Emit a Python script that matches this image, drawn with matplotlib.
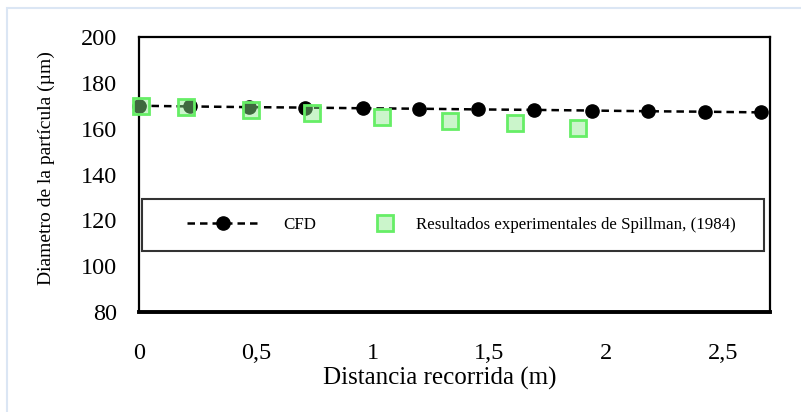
import matplotlib
matplotlib.use("Agg")
import matplotlib.pyplot as plt
from matplotlib.patches import Rectangle

# CFD simulation: particle diameter along the travelled distance
cfd_x = [0.0, 0.22, 0.47, 0.71, 0.96, 1.20, 1.45, 1.69, 1.94, 2.18, 2.42, 2.66]
cfd_y = [170.0, 169.7, 169.4, 169.2, 168.9, 168.7, 168.4, 168.2, 167.9, 167.6, 167.4, 167.1]

# Experimental results (Spillman, 1984)
exp_x = [0.01, 0.20, 0.48, 0.74, 1.04, 1.33, 1.61, 1.88]
exp_y = [170.0, 169.6, 168.1, 167.0, 165.2, 163.5, 162.3, 160.1]

x_ticks = [0, 0.5, 1, 1.5, 2, 2.5]
x_tick_labels = ["0", "0,5", "1", "1,5", "2", "2,5"]
y_ticks = [80, 100, 120, 140, 160, 180, 200]

plt.rcParams["font.family"] = ["Liberation Serif", "DejaVu Serif"]

fig = plt.figure(figsize=(8.01, 4.12), dpi=100)
ax = fig.add_axes([0.1735, 0.2427, 0.7878, 0.6675])

# light frame around the whole figure
fig.patches.append(Rectangle((7 / 801, -0.05), 1.1, 1 - 8 / 412 + 0.05,
                             transform=fig.transFigure, fill=False,
                             edgecolor="#dbe6f4", linewidth=1.5))

cfd_line, = ax.plot(cfd_x, cfd_y, linestyle=(0, (3, 2)), color="black",
                    linewidth=1.8, marker="o", markersize=9.5,
                    markerfacecolor="black", markeredgecolor="black",
                    label="CFD", zorder=3, clip_on=False)
exp_pts, = ax.plot(exp_x, exp_y, linestyle="none", marker="s", markersize=11.5,
                   markerfacecolor=(0.55, 0.92, 0.55, 0.45),
                   markeredgecolor="#66ee66", markeredgewidth=2,
                   label="Resultados experimentales de Spillman, (1984)",
                   zorder=4, clip_on=False)

ax.set_xlim(0, 2.70)
ax.set_ylim(80, 200)
ax.set_xticks(x_ticks)
ax.set_xticklabels(x_tick_labels)
ax.set_yticks(y_ticks)
ax.tick_params(axis="both", length=0, labelsize=17.5)
ax.tick_params(axis="y", pad=16)
ax.tick_params(axis="x", pad=22)

for side in ["left", "right", "top"]:
    ax.spines[side].set_color("black")
    ax.spines[side].set_linewidth(1.6)
ax.spines["bottom"].set_linewidth(2.8)

ax.set_xlabel("Distancia recorrida (m)", fontsize=18)
ax.xaxis.set_label_coords(0.477, -0.2)
ax.set_ylabel("Diametro de la partícula (µm)", fontsize=14)
ax.yaxis.set_label_coords(-0.133, 0.525)

# boxed legend inside the axes
ax.add_patch(Rectangle((0.005, 0.222), 0.985, 0.189, transform=ax.transAxes,
                       facecolor="white", edgecolor="#333333", linewidth=1.5,
                       zorder=5))
leg1 = ax.legend(handles=[cfd_line], loc="center left",
                 bbox_to_anchor=(0.076, 0.3165), frameon=False, fontsize=12.2,
                 borderpad=0, borderaxespad=0, handlelength=4.2,
                 handletextpad=1.5)
leg1.set_zorder(6)
ax.add_artist(leg1)
leg2 = ax.legend(handles=[exp_pts], loc="center left",
                 bbox_to_anchor=(0.369, 0.3165), frameon=False, fontsize=12.2,
                 borderpad=0, borderaxespad=0, handlelength=1.5,
                 handletextpad=1.1)
leg2.set_zorder(6)

fig.savefig("out.png", dpi=100)
